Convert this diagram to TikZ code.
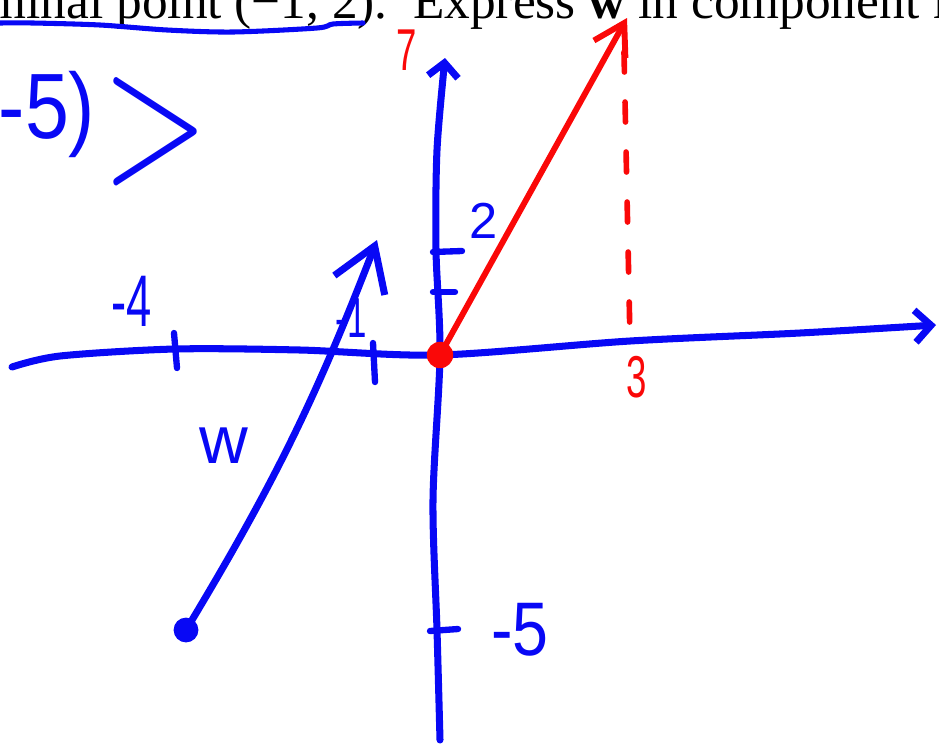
\documentclass[tikz,border=0pt]{standalone}
\usepackage{fontspec}
\setmainfont{Liberation Serif}
\newfontfamily\penfont[FakeStretch=0.62]{Liberation Sans}
\newfontfamily\penmid[FakeStretch=0.85]{Liberation Sans}
\newfontfamily\penwide{Liberation Sans}
\usetikzlibrary{arrows.meta, calc}
\definecolor{penblue}{RGB}{8,8,245}
\definecolor{penred}{RGB}{250,8,8}

\begin{document}
\begin{tikzpicture}[x=0.025cm, y=-0.025cm,
    ax/.style={penblue, line width=5pt, line cap=round, line join=round},
    tk/.style={penblue, line width=4.5pt, line cap=round},
    lbl/.style={text=penblue, inner sep=0pt, font=\penfont\fontsize{#1}{#1}\selectfont},
    lbl/.default=50,
    rlbl/.style={lbl=#1, text=penred},
    rlbl/.default=42,
    dot/.style={circle, inner sep=0pt, minimum size=#1},
    vec/.style={penblue, line width=5pt, line cap=round, line join=round, -{Straight Barb[length=1.05cm, width=1.35cm]}},
    posvec/.style={penred, line width=4.2pt, line cap=round, line join=round, -{Straight Barb[length=0.75cm, width=0.9cm]}}]
  \clip (0,0) rectangle (939,744);
  % printed question text
  \node[anchor=base east, inner sep=0pt, font=\fontsize{36.5}{40}\selectfont] (q1) at (388,18) {terminal point (−1, 2).};
  \node[anchor=base west, inner sep=0pt, font=\fontsize{36.5}{40}\selectfont] (q2) at (413,18) {Express \textbf{w} in component form};
  \draw[penblue, line width=3.6pt, line cap=round] plot[smooth] coordinates {(0,23) (33,23) (100,25) (167,30) (233,32) (317,28) (333,24) (363,23)};
  \node[lbl, font=\penmid\fontsize{66}{66}\selectfont] (c1) at (47,114) {-5)};
  \node[text=penblue, inner sep=0pt] (c2) at (156,132) {\scalebox{9.7}[13.3]{$>$}};
  % axes
  \coordinate (o) at (440,355);
  \coordinate (xl) at (12,367);
  \coordinate (xr) at (936,325);
  \coordinate (yb) at (440,740);
  \coordinate (yt) at (445,58);
  \draw[ax, -{Straight Barb[length=0.4cm, width=0.8cm]}] plot[smooth] coordinates {(xl) (60,356) (175,349) (300,350) (o) (630,341) (800,333) (xr)};
  \draw[ax, -{Straight Barb[length=0.35cm, width=0.75cm]}] plot[smooth] coordinates {(yb) (437,630) (433,500) (o) (436,250) (437,150) (yt)};
  \draw[tk] (174,333) -- (177,368);
  \draw[tk] (373,343) -- (375,382);
  \draw[tk] (433,252) -- (462,251);
  \draw[tk] (433,292) -- (455,292);
  \draw[tk] (430,631) -- (458,629);
  \node[lbl=52] (l4) at (132,301) {-4};
  \node[lbl=40] (l1) at (351,318) {-1};
  \node[lbl, font=\penwide\fontsize{36}{36}\selectfont] (l2) at (484,221) {2};
  \node[lbl, font=\penmid\fontsize{54}{54}\selectfont] (l5) at (520,630) {-5};
  \node[lbl, font=\penwide\fontsize{48}{48}\selectfont] (lw) at (224,446) {w};
  % vector w
  \node[dot=0.62cm, fill=penblue] (tail) at (186,630) {};
  \coordinate (wtip) at (377,240);
  \draw[vec] (tail.center) to[bend right=5] (wtip);
  % position vector
  \coordinate (rtip) at (627,18);
  \coordinate (rtop) at (624,52);
  \coordinate (x3) at (630,340);
  \draw[penred, line width=4pt, line cap=round, dash pattern=on 0.5cm off 0.75cm] (rtop) -- (x3);
  \draw[posvec] (o) -- (rtip);
  \node[dot=0.66cm, fill=penred] (org) at (o) {};
  \node[rlbl] (r7) at (407,50) {7};
  \node[rlbl] (r3) at (637,377) {3};
\end{tikzpicture}
\end{document}
